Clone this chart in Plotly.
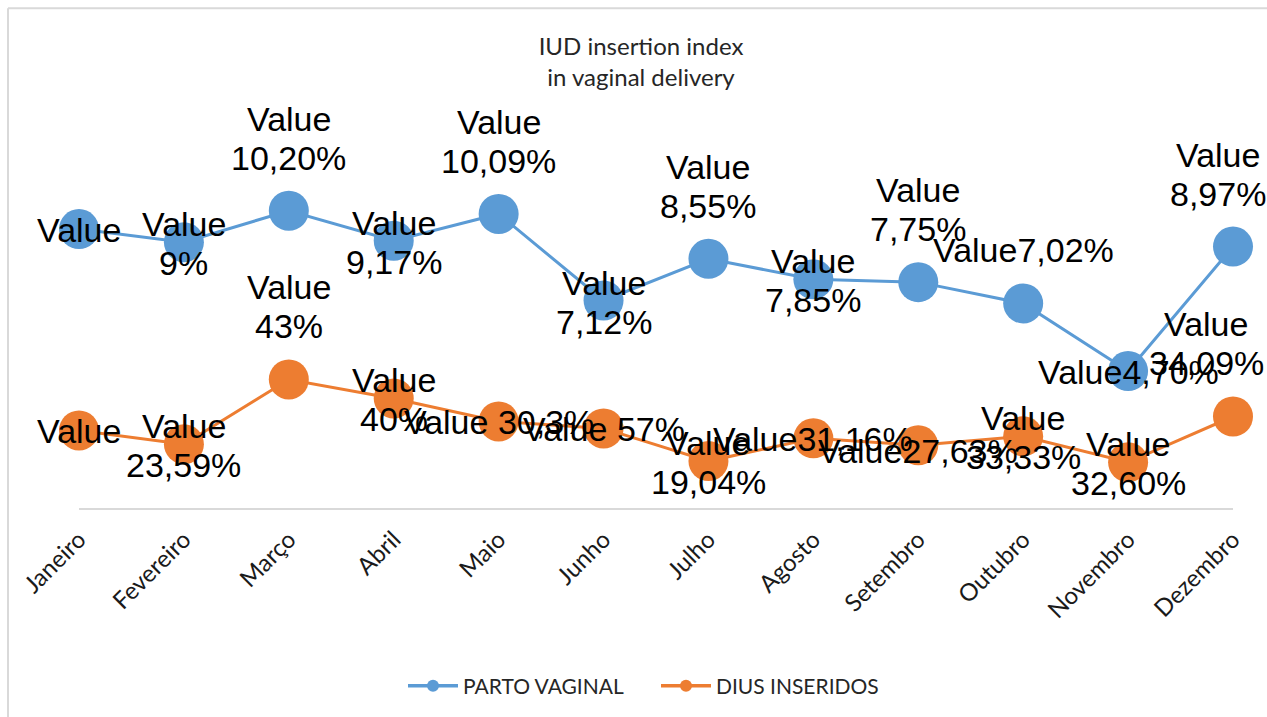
import plotly.graph_objects as go

months = ["Janeiro", "Fevereiro", "Março", "Abril", "Maio", "Junho", "Julho",
          "Agosto", "Setembro", "Outubro", "Novembro", "Dezembro"]

parto_vaginal = [9.57, 9.12, 10.20, 9.17, 10.09, 7.12, 8.55, 7.85, 7.75, 7.02, 4.70, 8.97]
dius_inseridos = [2.66, 2.19, 4.41, 3.76, 2.97, 2.73, 1.61, 2.39, 2.15, 2.46, 1.57, 3.14]

parto_labels = ["Value", "Value<br>9%", "Value<br>10,20%", "Value<br>9,17%", "Value<br>10,09%",
                "Value<br>7,12%", "Value<br>8,55%", "Value<br>7,85%", "Value<br>7,75%",
                "Value7,02%", "Value4,70%", "Value<br>8,97%"]
dius_labels = ["Value", "Value<br>23,59%", "Value<br>43%", "Value<br>40%", "Value 30,3%",
               "Value 57%", "Value<br>19,04%", "Value31,16%", "Value27,63%",
               "Value<br>33,33%", "Value<br>32,60%", "Value<br>34,09%"]

# label placement codes (styling only)
parto_place = ["c", "c", "a", "c", "a", "c", "a", "c", "a", "a1", "c", "aL"]
dius_place = ["c", "c", "a", "c", "c", "c", "c", "c", "cD", "c", "c", "aLL"]

BLUE = "#5B9BD5"
ORANGE = "#ED7D31"
LABEL_FONT = dict(family="Liberation Sans, Arial", size=34, color="#000000")
LINE_GAP = 39

fig = go.Figure()
for name, vals, col in [("PARTO VAGINAL", parto_vaginal, BLUE), ("DIUS INSERIDOS", dius_inseridos, ORANGE)]:
    fig.add_trace(go.Scatter(x=months, y=vals, mode="lines+markers", name=name,
                             line=dict(color=col, width=3),
                             marker=dict(color=col, size=40),
                             cliponaxis=False, showlegend=False, hoverinfo="skip"))
    fig.add_trace(go.Scatter(x=[None], y=[None], mode="lines+markers", name=name,
                             line=dict(color=col, width=3.5),
                             marker=dict(color=col, size=12), showlegend=True))


def placement(code, nlines):
    """Return (dx, centre offset of first line in px downward)."""
    dx = 0
    if code.startswith("a"):
        if code == "aL":
            dx = -15
        elif code == "aLL":
            dx = -27
        if code == "a1" or nlines == 1:
            return dx, -53
        return dx, -92
    if nlines == 1:
        return dx, 6 if code == "cD" else 1
    return dx, -18


annotations = []
for vals, labels, places in [(parto_vaginal, parto_labels, parto_place),
                             (dius_inseridos, dius_labels, dius_place)]:
    for m, v, t, p in zip(months, vals, labels, places):
        lines = t.split("<br>")
        dx, first = placement(p, len(lines))
        for i, ln in enumerate(lines):
            off = first + i * LINE_GAP
            annotations.append(dict(x=m, y=v, xref="x", yref="y", text=ln, showarrow=False,
                                    xshift=dx, yshift=-off, xanchor="center", yanchor="middle",
                                    font=LABEL_FONT))

W, H = 1267, 717
L, R, T, B = 79, 34, 100, 208
pw, ph = W - L - R, H - T - B


def px_x(px):
    return (px - L) / pw


def px_y(py):
    return (H - B - py) / ph


shapes = [
    dict(type="line", xref="paper", yref="paper", x0=px_x(8), x1=px_x(8),
         y0=px_y(8), y1=px_y(H + 10), line=dict(color="#D9D9D9", width=2)),
    dict(type="line", xref="paper", yref="paper", x0=px_x(8), x1=px_x(W + 10),
         y0=px_y(8), y1=px_y(8), line=dict(color="#D9D9D9", width=2)),
]

fig.update_layout(
    width=W, height=H,
    margin=dict(l=L, r=R, t=T, b=B),
    paper_bgcolor="white", plot_bgcolor="white",
    title=dict(text="IUD insertion index<br>in vaginal delivery", x=px_x(641), xref="paper",
               xanchor="center", y=1 - 55 / H, yanchor="middle", yref="container",
               font=dict(family="Lato, Open Sans", size=24, color="#262626")),
    xaxis=dict(type="category", range=[0, 11], showgrid=False, zeroline=False,
               showline=True, linecolor="#D9D9D9", linewidth=2, ticks="",
               ticklabelstandoff=6,
               tickangle=-45, tickfont=dict(family="Lato, Open Sans", size=24, color="#1a1a1a")),
    yaxis=dict(range=[0, 14], visible=False, showgrid=False, zeroline=False),
    legend=dict(orientation="h", x=px_x(403), xref="paper", xanchor="left",
                y=px_y(686), yanchor="middle",
                font=dict(family="Lato, Open Sans", size=21, color="#262626"),
                itemwidth=50, entrywidth=188),
    annotations=annotations,
    shapes=shapes,
    showlegend=True,
)

fig.write_html("out.html",
               config={"displayModeBar": False},
               post_script="document.body.style.margin='0';"
                           "document.body.style.overflow='hidden';"
                           "document.documentElement.style.overflow='hidden';")
